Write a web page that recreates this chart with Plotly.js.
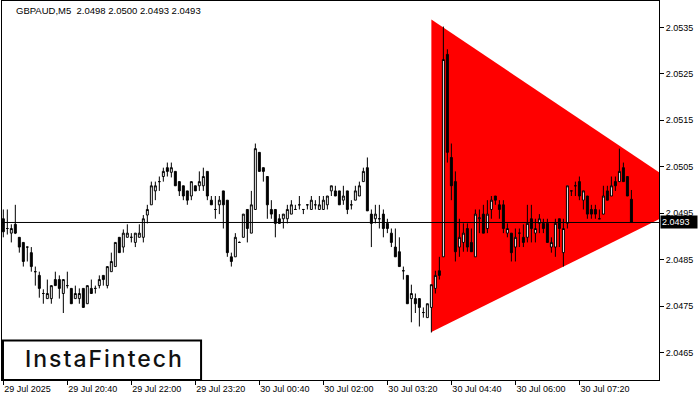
<!DOCTYPE html>
<html>
<head>
<meta charset="utf-8">
<script src="https://cdn.plot.ly/plotly-3.0.1.min.js"></script>
<style>
html,body{margin:0;padding:0;background:#fff;}
#chart{width:700px;height:400px;}
#chart .annotation[data-index="1"] text{letter-spacing:2px;}
</style>
</head>
<body>
<div id="chart"></div>
<script>
// ---- data (GBPAUD M5 candles) ----
const symbolTitle = "GBPAUD,M5  2.0498 2.0500 2.0493 2.0493";
const opens = [2.04938,2.04917,2.04907,2.04926,2.04898,2.04887,2.04877,2.04865,2.04824,2.04816,
2.04777,2.04766,2.04766,2.04807,2.04807,2.04777,2.04794,2.04788,2.04766,2.04766,
2.04788,2.04755,2.04788,2.04788,2.04794,2.04816,2.04794,2.04824,2.04835,2.04898,
2.04877,2.04898,2.04898,2.04887,2.04898,2.04898,2.04946,2.04968,2.04998,2.05018,
2.05029,2.05048,2.05038,2.05040,2.05018,2.05009,2.04998,2.04987,2.05009,2.05009,
2.05009,2.05040,2.04978,2.04958,2.04968,2.04998,2.04978,2.04856,2.04856,2.04887,
2.04898,2.04958,2.04907,2.04958,2.05081,2.05048,2.05029,2.04958,2.04958,2.04938,
2.04938,2.04938,2.04948,2.04958,2.04968,2.04958,2.04968,2.04958,2.04968,2.04958,
2.04958,2.04968,2.04998,2.04998,2.04998,2.04978,2.04998,2.04968,2.04978,2.04987,
2.05018,2.05048,2.04948,2.04938,2.04938,2.04948,2.04928,2.04907,2.04877,2.04867,
2.04826,2.04816,2.04766,2.04766,2.04766,2.04736,2.04725,2.04747,2.04788,2.04826,
2.04856,2.05292,2.05070,2.05018,2.04877,2.04887,2.04917,2.04887,2.04856,2.04938,
2.04948,2.04917,2.04958,2.04987,2.04968,2.04968,2.04907,2.04907,2.04877,2.04907,
2.04898,2.04898,2.04938,2.04907,2.04928,2.04928,2.04928,2.04877,2.04877,2.04938,
2.04865,2.04928,2.04998,2.05009,2.05018,2.04978,2.04987,2.04958,2.04958,2.04938,
2.04948,2.04998,2.04987,2.05018,2.05018,2.05048,2.05029,2.04980];
const highs = [2.04958,2.04958,2.04926,2.04968,2.04898,2.04887,2.04877,2.04877,2.04835,2.04824,
2.04786,2.04807,2.04794,2.04824,2.04816,2.04807,2.04824,2.04788,2.04794,2.04788,
2.04788,2.04794,2.04807,2.04794,2.04816,2.04816,2.04835,2.04865,2.04887,2.04898,
2.04915,2.04926,2.04907,2.04907,2.04926,2.04946,2.04968,2.05018,2.05018,2.05029,
2.05048,2.05059,2.05059,2.05040,2.05018,2.05009,2.04998,2.05018,2.05009,2.05040,
2.05048,2.05040,2.04987,2.04987,2.04987,2.04998,2.04978,2.04865,2.04907,2.04889,
2.04948,2.04958,2.04998,2.05100,2.05081,2.05048,2.05029,2.04978,2.04958,2.04948,
2.04948,2.04968,2.04978,2.04968,2.04987,2.04958,2.04968,2.04987,2.04978,2.04987,
2.04987,2.04987,2.05009,2.05009,2.04998,2.05009,2.04998,2.04978,2.05009,2.05018,
2.05048,2.05070,2.04958,2.04968,2.04968,2.04958,2.04938,2.04917,2.04917,2.04898,
2.04835,2.04816,2.04796,2.04777,2.04766,2.04747,2.04755,2.04796,2.04826,2.04856,
2.05352,2.05303,2.05100,2.05040,2.04938,2.04928,2.04928,2.04917,2.04958,2.04958,
2.04968,2.04978,2.04987,2.04987,2.04978,2.04978,2.04928,2.04907,2.04917,2.04917,
2.04926,2.04968,2.04968,2.04938,2.04948,2.04938,2.04938,2.04898,2.04938,2.04938,
2.04938,2.05009,2.04998,2.05018,2.05029,2.04998,2.04987,2.04968,2.04968,2.04958,
2.05009,2.05009,2.05029,2.05029,2.05089,2.05059,2.05029,2.05000];
const lows = [2.04898,2.04904,2.04887,2.04905,2.04865,2.04835,2.04846,2.04824,2.04794,2.04768,
2.04755,2.04766,2.04755,2.04794,2.04766,2.04735,2.04788,2.04755,2.04766,2.04755,
2.04747,2.04755,2.04777,2.04777,2.04788,2.04794,2.04788,2.04824,2.04835,2.04865,
2.04865,2.04898,2.04887,2.04877,2.04898,2.04887,2.04928,2.04968,2.04978,2.04998,
2.05018,2.05029,2.05027,2.05009,2.04987,2.04978,2.04968,2.04978,2.04998,2.04998,
2.04998,2.04978,2.04968,2.04938,2.04948,2.04917,2.04856,2.04835,2.04856,2.04886,
2.04898,2.04887,2.04907,2.04958,2.05040,2.05018,2.04938,2.04938,2.04898,2.04928,
2.04917,2.04928,2.04948,2.04958,2.04958,2.04948,2.04958,2.04958,2.04958,2.04958,
2.04958,2.04958,2.04987,2.04987,2.04968,2.04968,2.04948,2.04958,2.04978,2.04987,
2.05018,2.04955,2.04877,2.04928,2.04917,2.04898,2.04907,2.04877,2.04856,2.04835,
2.04807,2.04755,2.04715,2.04735,2.04706,2.04725,2.04725,2.04693,2.04777,2.04807,
2.04856,2.05059,2.04978,2.04846,2.04856,2.04867,2.04867,2.04867,2.04856,2.04907,
2.04907,2.04907,2.04938,2.04968,2.04938,2.04907,2.04898,2.04846,2.04846,2.04877,
2.04877,2.04887,2.04887,2.04887,2.04907,2.04907,2.04887,2.04865,2.04856,2.04877,
2.04835,2.04917,2.04987,2.04987,2.04978,2.04958,2.04938,2.04938,2.04938,2.04938,
2.04948,2.04978,2.04987,2.04998,2.05018,2.05018,2.04987,2.04930];
const closes = [2.04910,2.04917,2.04917,2.04907,2.04877,2.04846,2.04877,2.04835,2.04824,2.04788,
2.04777,2.04777,2.04794,2.04794,2.04788,2.04807,2.04794,2.04755,2.04777,2.04777,
2.04747,2.04794,2.04777,2.04788,2.04807,2.04807,2.04835,2.04846,2.04887,2.04865,
2.04907,2.04907,2.04898,2.04907,2.04907,2.04938,2.04958,2.05009,2.05009,2.05018,
2.05040,2.05040,2.05048,2.05009,2.04998,2.04987,2.04978,2.05018,2.04998,2.05018,
2.05029,2.04987,2.04968,2.04958,2.04978,2.04968,2.04865,2.04846,2.04898,2.04887,
2.04948,2.04917,2.04968,2.05089,2.05040,2.05040,2.04968,2.04948,2.04928,2.04928,
2.04948,2.04958,2.04968,2.04958,2.04968,2.04958,2.04968,2.04978,2.04968,2.04968,
2.04978,2.04987,2.05009,2.04987,2.04968,2.04987,2.04958,2.04968,2.04998,2.05009,
2.05040,2.04955,2.04928,2.04948,2.04938,2.04917,2.04917,2.04887,2.04856,2.04835,
2.04826,2.04755,2.04777,2.04755,2.04747,2.04736,2.04755,2.04796,2.04816,2.04816,
2.05281,2.05081,2.05009,2.04867,2.04898,2.04907,2.04877,2.04867,2.04948,2.04940,
2.04907,2.04948,2.04978,2.04978,2.04958,2.04917,2.04917,2.04865,2.04898,2.04907,
2.04887,2.04928,2.04917,2.04917,2.04938,2.04917,2.04887,2.04887,2.04928,2.04917,
2.04917,2.05009,2.04998,2.05009,2.04987,2.04998,2.04948,2.04948,2.04948,2.04938,
2.04987,2.04978,2.05009,2.05009,2.05040,2.05018,2.04987,2.04930];

// time axis labels (bar index of each label)
const timeTickIndex = [0, 16, 32, 48, 64, 80, 96, 112, 128, 144];
const timeTickLabels = ["29 Jul 2025","29 Jul 20:40","29 Jul 22:00","29 Jul 23:20","30 Jul 00:40",
  "30 Jul 02:00","30 Jul 03:20","30 Jul 04:40","30 Jul 06:00","30 Jul 07:20"];
const priceTicks = [2.0465, 2.0475, 2.0485, 2.0495, 2.0505, 2.0515, 2.0525, 2.0535];

// symmetric triangle pattern (bar index, price)
const triangleBars = [107, 107, 174];
const trianglePrices = [2.05367, 2.04694, 2.04980];

const logoText = "InstaFintech";

// ---- drawing ----
const barIndex = opens.map((_, i) => i);
const lastClose = closes[closes.length - 1];
const FONT = "Liberation Sans, Arial, sans-serif";

const trianglePath = triangleBars.map((b, i) => (i === 0 ? "M" : "L") + b + "," + trianglePrices[i]).join(" ") + " Z";

const traces = [
  {
    type: "candlestick", x: barIndex, open: opens, high: highs, low: lows, close: closes,
    increasing: {line: {color: "#000000", width: 1}, fillcolor: "#ffffff"},
    decreasing: {line: {color: "#000000", width: 1}, fillcolor: "#000000"},
    whiskerwidth: 0, hoverinfo: "skip", showlegend: false
  }
];

const layout = {
  width: 700, height: 400,
  margin: {l: 2, r: 41, t: 1, b: 20, pad: 0},
  paper_bgcolor: "#ffffff", plot_bgcolor: "#ffffff",
  showlegend: false,
  title: {
    text: symbolTitle, xref: "container", yref: "container",
    x: 16 / 700, xanchor: "left", y: 1 - 11 / 400, yanchor: "middle",
    font: {family: FONT, size: 9.5, color: "#000000"}
  },
  xaxis: {
    range: [-0.33, 163.9], showgrid: false, zeroline: false,
    showline: true, linecolor: "#000000", linewidth: 1, mirror: true,
    ticks: "outside", ticklen: 4, tickcolor: "#000000", tickwidth: 1,
    tickmode: "array", tickvals: timeTickIndex, ticktext: timeTickLabels,
    ticklabelposition: "outside right",
    tickfont: {family: FONT, size: 9, color: "#000000"},
    rangeslider: {visible: false}, fixedrange: true
  },
  yaxis: {
    side: "right", range: [2.045907, 2.05407], showgrid: false, zeroline: false,
    showline: true, linecolor: "#000000", linewidth: 1, mirror: true,
    ticks: "outside", ticklen: 4, tickcolor: "#000000", tickwidth: 1,
    tickmode: "array", tickvals: priceTicks, ticktext: priceTicks.map(v => v.toFixed(4)),
    tickfont: {family: FONT, size: 9, color: "#000000"}, fixedrange: true
  },
  shapes: [
    {type: "path", xref: "x", yref: "y", path: trianglePath, fillcolor: "#ff0000",
     line: {width: 0}, layer: "below"},
    {type: "line", xref: "paper", x0: 0, x1: 1, yref: "y", y0: lastClose, y1: lastClose,
     line: {color: "#000000", width: 1}, layer: "above"},
    {type: "rect", xref: "paper", yref: "paper", x0: 0.0015, x1: 0.3030, y0: 0, y1: 0.104,
     line: {color: "#000000", width: 2}, fillcolor: "#ffffff", layer: "above"}
  ],
  annotations: [
    {xref: "paper", x: 1, xanchor: "left", xshift: 1, yref: "y", y: lastClose, yanchor: "middle",
     text: lastClose.toFixed(4), showarrow: false, bgcolor: "#000000", borderpad: 1,
     width: 34, height: 10, align: "left",
     font: {family: FONT, size: 9, color: "#ffffff"}},
    {xref: "paper", x: 0.1563, xanchor: "center", yref: "paper", y: 0.0554, yanchor: "middle",
     text: logoText, showarrow: false,
     font: {family: "Inter, Lato, sans-serif", size: 23, color: "#111111", weight: 500}}
  ]
};

Plotly.newPlot("chart", traces, layout, {staticPlot: true, displayModeBar: false});
</script>
</body>
</html>
